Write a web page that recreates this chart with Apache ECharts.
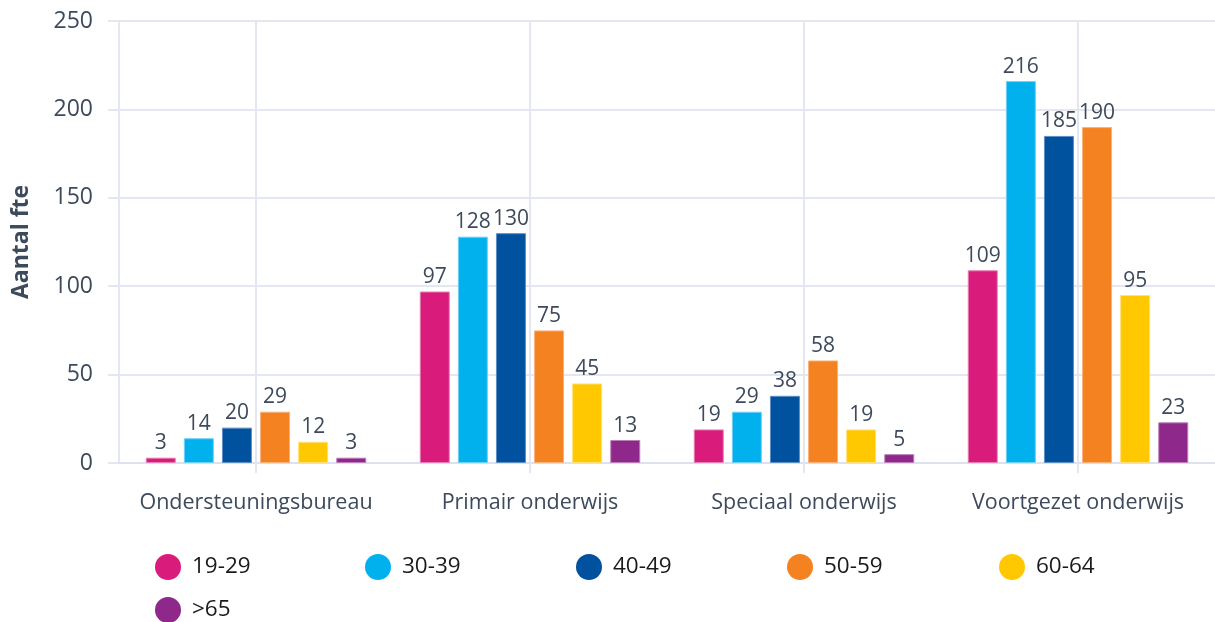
<!DOCTYPE html>
<html><head><meta charset="utf-8">
<script src="https://cdn.jsdelivr.net/npm/echarts@6/dist/echarts.min.js"></script>
<style>html,body{margin:0;padding:0;background:#fff}#c{width:1215px;height:622px}</style>
</head><body><div id="c"></div>
<script>
const categories = ['Ondersteuningsbureau', 'Primair onderwijs', 'Speciaal onderwijs', 'Voortgezet onderwijs'];
const seriesNames = ['19-29', '30-39', '40-49', '50-59', '60-64', '>65'];
const s1929 = [3, 97, 19, 109];
const s3039 = [14, 128, 29, 216];
const s4049 = [20, 130, 38, 185];
const s5059 = [29, 75, 58, 190];
const s6064 = [12, 45, 19, 95];
const s65 = [3, 13, 5, 23];
const yTicks = [0, 50, 100, 150, 200, 250];
const colors = ['#d91b7c', '#00b1ee', '#00529f', '#f58220', '#ffc800', '#8e288b'];
const borders = ['#e87fb4', '#6fd0f5', '#5f8dc4', '#f9b27a', '#ffe07a', '#bb7fba'];
const values = [s1929, s3039, s4049, s5059, s6064, s65];
const FONT = 'Open Sans';
const TXT = '#3d4a5c';
const GRIDC = '#e4e6f2';
const legendLefts = [155, 365, 576, 787, 999, 155];
const legendTops = [554, 554, 554, 554, 554, 597];

const chart = echarts.init(document.getElementById('c'), null, {renderer: 'canvas'});
chart.setOption({
  animation: false,
  color: colors,
  textStyle: {fontFamily: FONT},
  grid: {left: 119, right: -3, top: 21, bottom: 159, containLabel: false},
  legend: seriesNames.map((n, i) => ({
    left: legendLefts[i], top: legendTops[i], padding: 0,
    icon: 'circle', itemWidth: 26, itemHeight: 26,
    itemStyle: {borderWidth: 0},
    textStyle: {fontFamily: FONT, fontSize: 22.5, color: '#1a1a1a', padding: [0, 0, 0, 6]},
    data: [n]
  })),
  xAxis: {
    type: 'category', data: categories,
    axisLine: {show: true, lineStyle: {color: '#dde0ee', width: 2}},
    axisTick: {show: true, alignWithLabel: true, interval: 0, length: 10, lineStyle: {color: GRIDC, width: 2}},
    splitLine: {show: true, alignWithLabel: true, interval: 0, lineStyle: {color: GRIDC, width: 2}},
    axisLabel: {fontFamily: FONT, fontSize: 21.5, color: TXT, margin: 29, interval: 0}
  },
  yAxis: {
    type: 'value', min: 0, max: 250, interval: 50,
    name: 'Aantal fte', nameLocation: 'middle', nameGap: 86,
    nameTextStyle: {fontFamily: FONT, fontSize: 23, fontWeight: 'bold', color: TXT},
    axisLine: {show: true, lineStyle: {color: GRIDC, width: 2}},
    axisTick: {show: true, length: 11, lineStyle: {color: GRIDC, width: 2}},
    splitLine: {show: true, lineStyle: {color: GRIDC, width: 2}},
    axisLabel: {fontFamily: FONT, fontSize: 23, color: TXT, margin: 26,
      formatter: v => yTicks.includes(v) ? String(v) : ''}
  },
  series: seriesNames.map((n, i) => ({
    name: n, type: 'bar', data: values[i], barWidth: 30, barGap: '27%',
    itemStyle: {color: colors[i], borderColor: borders[i], borderWidth: 1},
    label: {show: true, position: 'top', distance: 4, fontFamily: FONT, fontSize: 21, color: TXT}
  }))
});
</script></body></html>
